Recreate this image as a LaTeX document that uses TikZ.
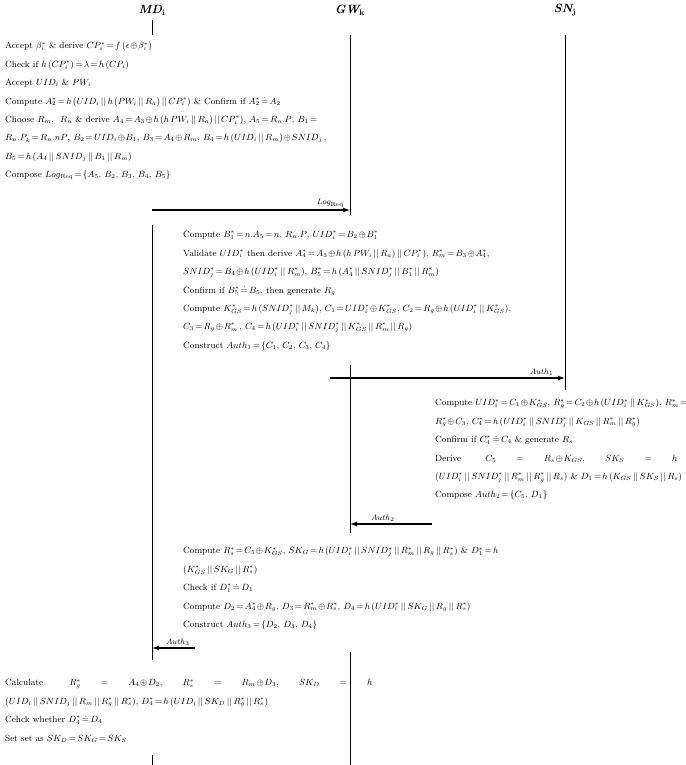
\documentclass[tikz,border=0pt]{standalone}
\usetikzlibrary{positioning,arrows.meta}

\newcommand{\cc}{\,||\,}
\newcommand{\st}{^{*}}
\thickmuskip=2.5mu plus 1mu
\medmuskip=1.5mu plus 1mu

\begin{document}
\begin{tikzpicture}[
    x=1pt, y=-1pt,
    % general settings
    font=\fontsize{9}{18.4}\selectfont,
    % nodes
    party/.style={font=\fontsize{12}{14}\selectfont\bfseries\itshape},
    steps/.style={anchor=north west, inner sep=0pt, align=left},
    msglabel/.style={font=\fontsize{8}{9}\selectfont, above, inner sep=2pt},
    % lines
    life/.style={black, thick},
    msg/.style={-{Latex[length=7pt,width=5pt]}, very thick}
  ]
  \useasboundingbox (0,0) rectangle (685,765);

  % parties
  \node (md) [party] at (152,10) {MD\textsubscript{\upshape i}};
  \node (gw) [party] at (350,10) {GW\textsubscript{\upshape k}};
  \node (sn) [party] at (565,10) {SN\textsubscript{\upshape j}};

  % lifelines
  \draw[life] (152,20) -- (152,35);
  \draw[life] (152,225) -- (152,660);
  \draw[life] (152,755) -- (152,765);
  \draw[life] (350,35) -- (350,215);
  \draw[life] (350,365) -- (350,533);
  \draw[life] (350,652) -- (350,765);
  \draw[life] (565,35) -- (565,390);

  % mobile device
  \node (mdsteps) [steps] at (5,42) {%
    Accept $\beta_i\st$ \& derive $CP_i\st = f\,(\epsilon\oplus \beta_i\st)$\\
    Check if $h\;(CP_i\st) \doteq \lambda = h\;(CP_i)$\\
    Accept $UID_i$ \& $PW_i$\\
    Compute $A_2\st = h\;(UID_i\cc h\;(PW_i\cc R_a)\cc CP_i\st)$ \& Confirm if $A_2\st \doteq A_2$\\
    Choose $R_m$,\ \ $R_n$ \& derive $A_4 = A_3\oplus h\;(h\;PW_i\cc R_a)\cc CP_i\st)$, $A_5 = R_n.P$, $B_1 =$\\
    $R_n.P_k = R_n.nP$, $B_2 = UID_i\oplus B_1$, $B_3 = A_4\oplus R_m$, $B_4 = h\;(UID_i\cc R_m)\oplus SNID_j$\,,\\
    $B_5 = h\;(A_4\cc SNID_j\cc B_1\cc R_m)$\\
    Compose $Log_{\mathrm{Req}} = \{A_5,\,B_2,\,B_3,\,B_4,\,B_5\}$};

  % gateway
  \node (gwsteps) [steps] at (183,231) {%
    Compute $B_1\st = n.A_5 = n.\ R_n.P$, $UID_i\st = B_2\oplus B_1\st$\\
    Validate $UID_i\st$ then derive $A_4\st = A_3\oplus h\;(h\;PW_i\cc R_a)\cc CP_i\st)$, $R_m\st = B_3\oplus A_4\st$,\\
    $SNID_j\st = B_4\oplus h\;(UID_i\st\cc R_m\st)$, $B_5\st = h\;(A_4\st\cc SNID_j\st\cc B_1\st\cc R_m\st)$\\
    Confirm if $B_5\st \doteq B_5$, then generate $R_g$\\
    Compute $K_{GS}\st = h\;(SNID_j\st\cc M_k)$, $C_1 = UID_i\st\oplus K_{GS}\st$, $C_2 = R_g\oplus h\;(UID_i\st\cc K_{GS}\st)$,\\
    $C_3 = R_g\oplus R_m\st$\,, $C_4 = h\;(UID_i\st\cc SNID_j\st\cc K_{GS}\st\cc R_m\st\cc R_g)$\\
    Construct $Auth_1 = \{C_1,\,C_2,\,C_3,\,C_4\}$};

  % sensor node
  \node (snsteps) [steps] at (435,399) {%
    Compute $UID_i\st = C_1\oplus K_{GS}\st$, $R_g\st = C_2\oplus h\;(UID_i\st\cc K_{GS}\st)$, $R_m\st =$\\
    $R_g\st\oplus C_3$, $C_4\st = h\;(UID_i\st\cc SNID_j\st\cc K_{GS}\cc R_m\st\cc R_g\st)$\\
    Confirm if $C_4\st \doteq C_4$ \& generate $R_s$\\
    Derive \hspace{18pt} $C_5$ \hspace{14pt} $=$ \hspace{14pt} $R_s\oplus K_{GS}$, \hspace{14pt} $SK_S$ \hspace{14pt} $=$ \hspace{14pt} $h$\\
    $(UID_i\st\cc SNID_j\st\cc R_m\st\cc R_g\st\cc R_s)$ \& $D_1 = h\;(K_{GS}\cc SK_S\cc R_s)$\\
    Compose $Auth_2 = \{C_5,\,D_1\}$};

  % gateway, second round
  \node (gwcheck) [steps] at (183,547) {%
    Compute $R_s\st = C_5\oplus K_{GS}\st$, $SK_G = h\;(UID_i\st\cc SNID_j\st\cc R_m\st\cc R_g\cc R_s\st)$ \& $D_1\st = h$\\
    $(K_{GS}\st\cc SK_G\cc R_s\st)$\\
    Check if $D_1\st \doteq D_1$\\
    Compute $D_2 = A_4\st\oplus R_g$, $D_3 = R_m\st\oplus R_s\st$, $D_4 = h\;(UID_i\st\cc SK_G\cc R_g\cc R_s\st)$\\
    Construct $Auth_3 = \{D_2,\,D_3,\,D_4\}$};

  % mobile device, session key
  \node (mdkey) [steps] at (5,679) {%
    Calculate \hspace{20pt} $R_g\st$ \hspace{14pt} $=$ \hspace{14pt} $A_4\oplus D_2$, \hspace{14pt} $R_s\st$ \hspace{14pt} $=$ \hspace{14pt} $R_m\oplus D_3$, \hspace{14pt} $SK_D$ \hspace{14pt} $=$ \hspace{14pt} $h$\\
    $(UID_i\cc SNID_j\cc R_m\cc R_g\st\cc R_s\st)$, $D_4\st = h\;(UID_i\cc SK_D\cc R_g\st\cc R_s\st)$\\
    Cehck whether $D_4\st \doteq D_4$\\
    Set set as $SK_D = SK_G = SK_S$};

  % messages
  \coordinate (logfrom) at (152,210);
  \coordinate (logto)   at (350,210);
  \coordinate (a1from)  at (330,378);
  \coordinate (a1to)    at (565,378);
  \coordinate (a2from)  at (432,524);
  \coordinate (a2to)    at (350,524);
  \coordinate (a3from)  at (195,648);
  \coordinate (a3to)    at (152,648);

  \draw[msg] (logfrom) -- node[msglabel, pos=0.9] {$Log_{\mathrm{Req}}$} (logto);
  \draw[msg] (a1from)  -- node[msglabel, pos=0.9] {$Auth_1$} (a1to);
  \draw[msg] (a2from)  -- node[msglabel, pos=0.6] {$Auth_2$} (a2to);
  \draw[msg] (a3from)  -- node[msglabel, pos=0.4] {$Auth_3$} (a3to);
\end{tikzpicture}
\end{document}
